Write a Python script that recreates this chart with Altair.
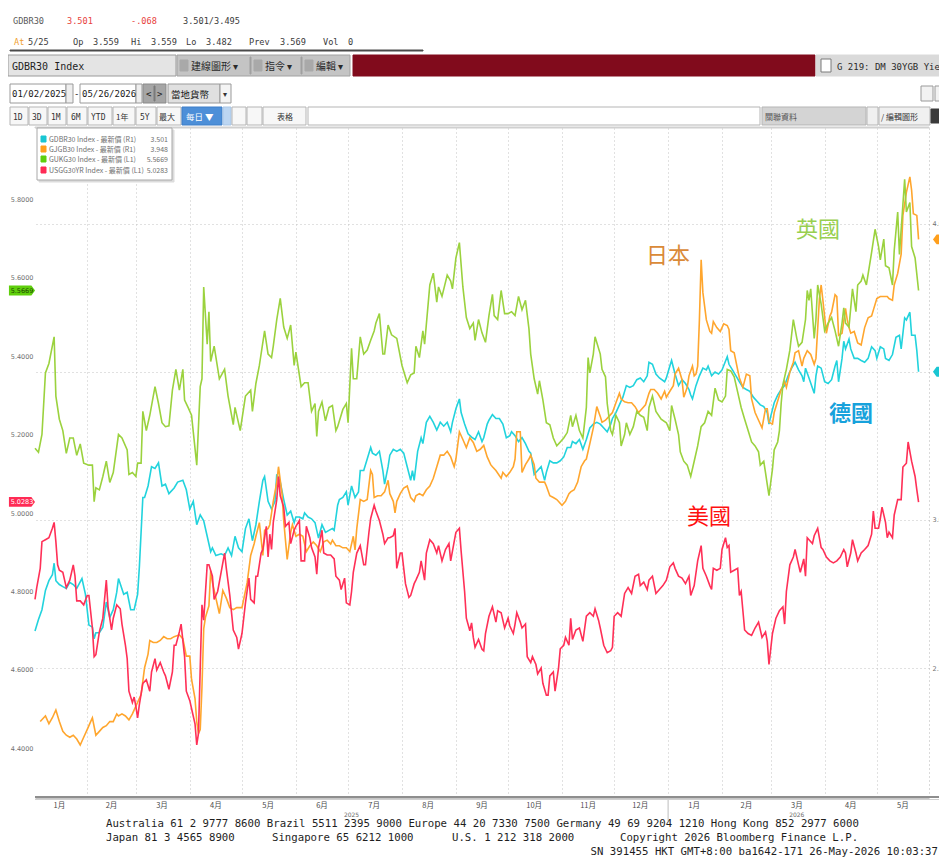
import altair as alt
import pandas as pd

# ------------------------------------------------------------------ data
START = "2025-01-02"          # first trading day shown; day offsets count from here

# (day offset, 30Y yield %)
uk30 = [(0,5.165),(2,5.155),(4,5.20),(6,5.357),(8,5.381),(11,5.449),(12,5.298),(14,5.239),(16,5.21),(18,5.152),
(20,5.191),(22,5.191),(24,5.147),(26,5.176),(28,5.127),(31,5.122),(33,5.122),(34,5.029),(35,5.064),(37,5.059),
(39,5.093),(41,5.132),(43,5.078),(45,5.103),(48,5.20),(50,5.191),(53,5.161),(54,5.098),(56,5.103),(58,5.093),
(59,5.127),(61,5.127),(62,5.259),(64,5.21),(66,5.249),(69,5.322),(71,5.279),(73,5.230),(75,5.220),(77,5.222),
(79,5.313),(81,5.366),(83,5.313),(85,5.366),(86,5.288),(88,5.269),(90,5.249),(93,5.122),(95,5.322),(96,5.342),
(97,5.576),(99,5.430),(100,5.513),(101,5.386),(103,5.425),(106,5.342),(109,5.366),(111,5.298),(114,5.225),(115,5.269),
(118,5.21),(121,5.298),(124,5.313),(125,5.259),(127,5.33),(129,5.376),(132,5.464),(134,5.405),(136,5.396),(137,5.425),
(139,5.493),(141,5.547),(143,5.474),(145,5.445),(147,5.479),(149,5.376),(150,5.410),(153,5.322),(155,5.332),(157,5.332),
(159,5.259),(161,5.279),(162,5.195),(163,5.259),(165,5.283),(167,5.235),(169,5.269),(171,5.274),(173,5.210),(174,5.220),
(177,5.264),(179,5.279),(180,5.230),(182,5.420),(183,5.342),(185,5.342),(187,5.449),(189,5.405),(191,5.415),(193,5.440),
(195,5.464),(196,5.484),(198,5.508),(200,5.405),(201,5.405),(203,5.479),(205,5.454),(208,5.445),(211,5.376),(214,5.332),
(216,5.352),(218,5.357),(219,5.425),(221,5.396),(223,5.464),(224,5.430),(227,5.581),(229,5.611),(231,5.537),(232,5.576),
(234,5.552),(237,5.606),(239,5.591),(240,5.571),(242,5.650),(244,5.689),(246,5.576),(248,5.498),(250,5.47),(252,5.484),
(253,5.440),(255,5.493),(257,5.459),(259,5.435),(261,5.503),(263,5.557),(264,5.503),(266,5.493),(268,5.567),(270,5.508),
(272,5.508),(274,5.513),(276,5.503),(278,5.552),(280,5.518),(282,5.542),(284,5.469),(285,5.405),(287,5.342),(289,5.303),
(290,5.337),(292,5.288),(294,5.230),(296,5.225),(298,5.191),(300,5.171),(302,5.181),(304,5.191),(306,5.205),(308,5.249),
(309,5.220),(311,5.249),(313,5.210),(315,5.191),(317,5.269),(318,5.396),(319,5.357),(321,5.405),(322,5.449),(325,5.405),
(326,5.366),(328,5.347),(329,5.279),(331,5.210),(332,5.200),(334,5.249),(336,5.230),(337,5.171),(339,5.200),(340,5.230),
(342,5.200),(344,5.220),(346,5.259),(348,5.249),(350,5.244),(352,5.210),(353,5.269),(355,5.298),(357,5.259),(360,5.239),
(363,5.230),(365,5.210),(366,5.274),(368,5.239),(370,5.200),(371,5.156),(373,5.132),(375,5.122),(377,5.093),(379,5.132),
(381,5.171),(383,5.220),(385,5.230),(387,5.259),(389,5.249),(391,5.318),(393,5.288),(395,5.283),(397,5.298),(398,5.366),
(400,5.362),(402,5.347),(404,5.308),(406,5.269),(408,5.239),(410,5.210),(412,5.181),(414,5.171),(416,5.156),(417,5.122),
(419,5.132),(420,5.103),(421,5.073),(422,5.044),(424,5.112),(425,5.161),(427,5.181),(428,5.210),(429,5.279),(430,5.327),
(432,5.366),(434,5.415),(436,5.493),(438,5.445),(439,5.425),(441,5.435),(443,5.493),(444,5.567),(445,5.542),(446,5.571),
(448,5.445),(449,5.493),(450,5.581),(452,5.532),(454,5.464),(456,5.484),(458,5.498),(460,5.464),(462,5.425),(464,5.484),
(465,5.523),(466,5.484),(468,5.474),(470,5.571),(472,5.513),(473,5.581),(475,5.591),(476,5.606),(478,5.581),(481,5.664),
(483,5.723),(485,5.679),(486,5.645),(488,5.698),(489,5.630),(491,5.625),(493,5.581),(494,5.669),(496,5.767),(497,5.659),
(499,5.786),(500,5.850),(501,5.767),(503,5.791),(504,5.679),(506,5.650),(508,5.567)]

us30 = [(0,4.780),(1,4.810),(3,4.859),(4,4.927),(6,4.932),(8,4.937),(10,4.961),(11,4.976),(12,4.927),(13,4.868),
(14,4.854),(16,4.849),(18,4.810),(20,4.829),(22,4.868),(23,4.839),(24,4.776),(26,4.776),(28,4.766),(30,4.790),
(31,4.790),(33,4.707),(34,4.634),(35,4.639),(37,4.697),(39,4.732),(41,4.829),(42,4.761),(44,4.702),(45,4.732),
(47,4.766),(49,4.756),(50,4.717),(52,4.663),(53,4.629),(54,4.546),(56,4.517),(57,4.531),(58,4.507),(59,4.478),
(60,4.512),(62,4.566),(64,4.575),(66,4.546),(67,4.595),(69,4.629),(70,4.600),(72,4.619),(74,4.595),(75,4.585),
(77,4.551),(79,4.595),(80,4.663),(81,4.663),(83,4.697),(84,4.717),(86,4.634),(87,4.546),(89,4.522),(90,4.502),
(92,4.463),(93,4.409),(94,4.439),(95,4.605),(96,4.766),(97,4.727),(99,4.868),(100,4.868),(102,4.839),(103,4.780),
(105,4.800),(107,4.849),(109,4.898),(110,4.859),(112,4.790),(114,4.702),(116,4.683),(117,4.653),(119,4.693),(121,4.771),
(123,4.834),(124,4.78),(126,4.771),(127,4.839),(128,4.839),(130,4.898),(131,4.907),(133,4.966),(134,4.888),(135,4.946),
(136,4.907),(137,4.976),(139,5.034),(140,5.093),(141,5.044),(143,5.015),(144,4.966),(146,4.976),(147,4.922),(149,4.956),
(150,4.966),(152,4.981),(153,4.878),(155,4.878),(156,4.966),(158,4.937),(159,4.912),(161,4.888),(162,4.844),(163,4.912),
(165,4.956),(166,4.898),(168,4.893),(170,4.893),(172,4.883),(173,4.839),(175,4.829),(176,4.805),(178,4.834),(179,4.771),
(181,4.766),(182,4.800),(183,4.849),(185,4.898),(187,4.917),(189,4.868),(190,4.868),(192,4.951),(193,4.986),(195,5.020),
(196,5.005),(198,4.981),(200,4.946),(201,4.922),(203,4.937),(204,4.937),(206,4.942),(207,4.961),(208,4.859),(210,4.898),
(211,4.898),(213,4.820),(215,4.785),(216,4.790),(218,4.820),(219,4.829),(221,4.849),(222,4.878),(224,4.829),(225,4.898),
(227,4.932),(229,4.922),(231,4.898),(232,4.917),(234,4.878),(236,4.907),(238,4.922),(239,4.878),(241,4.927),(242,4.951),
(244,4.961),(245,4.903),(247,4.800),(248,4.732),(250,4.70),(251,4.72),(252,4.683),(253,4.658),(255,4.678),(257,4.653),
(258,4.649),(259,4.693),(261,4.737),(263,4.761),(265,4.722),(266,4.751),(268,4.746),(270,4.707),(272,4.732),(273,4.712),
(275,4.693),(276,4.717),(277,4.746),(279,4.722),(280,4.707),(282,4.717),(283,4.634),(285,4.619),(286,4.634),(288,4.614),
(289,4.590),(291,4.605),(292,4.566),(294,4.536),(295,4.536),(296,4.585),(298,4.595),(299,4.546),(301,4.605),(302,4.654),
(304,4.663),(305,4.683),(307,4.663),(308,4.732),(309,4.678),(311,4.702),(313,4.707),(315,4.673),(317,4.737),(319,4.746),
(321,4.737),(322,4.756),(324,4.727),(325,4.707),(327,4.663),(329,4.644),(331,4.649),(332,4.658),(333,4.737),(335,4.746),
(337,4.737),(339,4.795),(341,4.810),(343,4.795),(345,4.839),(347,4.844),(348,4.815),(350,4.824),(352,4.805),(353,4.829),
(355,4.839),(357,4.795),(359,4.805),(361,4.815),(363,4.829),(365,4.863),(367,4.873),(368,4.859),(370,4.839),(372,4.834),
(374,4.820),(376,4.839),(377,4.790),(379,4.815),(381,4.878),(383,4.917),(384,4.859),(386,4.839),(388,4.815),(389,4.805),
(390,4.859),(392,4.854),(394,4.859),(395,4.907),(397,4.937),(398,4.912),(399,4.917),(400,4.849),(402,4.854),(404,4.859),
(405,4.790),(406,4.800),(407,4.751),(408,4.702),(410,4.693),(412,4.688),(414,4.707),(416,4.722),(418,4.683),(420,4.697),
(421,4.673),(422,4.614),(424,4.693),(426,4.732),(428,4.751),(430,4.761),(431,4.717),(432,4.800),(434,4.868),(436,4.888),
(437,4.907),(439,4.868),(440,4.849),(442,4.883),(443,4.839),(444,4.937),(445,4.932),(447,4.922),(448,4.942),(450,4.961),
(452,4.912),(453,4.907),(455,4.888),(457,4.878),(459,4.873),(461,4.878),(463,4.888),(465,4.907),(466,4.898),(467,4.863),
(469,4.898),(470,4.932),(472,4.898),(473,4.878),(475,4.898),(477,4.907),(479,4.917),(481,4.946),(482,5.005),(483,4.961),
(485,4.961),(486,4.986),(487,5.015),(489,4.976),(490,4.937),(491,4.951),(493,4.937),(494,4.995),(496,5.034),(498,5.034),
(499,5.117),(501,5.127),(502,5.181),(504,5.132),(506,5.093),(507,5.059),(508,5.028)]

de30 = [(0,2.625),(2,2.664),(4,2.697),(6,2.762),(8,2.795),(10,2.815),(11,2.854),(12,2.795),(14,2.782),(16,2.775),
(18,2.769),(20,2.789),(22,2.782),(24,2.769),(27,2.802),(29,2.749),(31,2.645),(33,2.638),(34,2.599),(35,2.619),
(37,2.619),(39,2.638),(41,2.723),(43,2.671),(45,2.697),(47,2.756),(48,2.802),(51,2.749),(53,2.756),(55,2.697),
(57,2.697),(59,2.749),(60,2.841),(62,3.076),(63,3.076),(65,3.115),(67,3.180),(69,3.174),(71,3.193),(73,3.115),
(75,3.121),(77,3.089),(80,3.108),(82,3.128),(85,3.134),(87,3.102),(89,3.037),(91,3.063),(93,2.984),(95,3.017),
(97,2.997),(99,2.945),(101,2.893),(102,2.906),(104,2.880),(107,2.886),(109,2.880),(111,2.906),(113,2.880),(115,2.945),
(117,2.906),(119,2.893),(121,2.971),(123,3.004),(125,2.93),(127,2.984),(129,3.063),(131,3.134),(132,3.147),(134,3.063),
(136,3.037),(138,3.063),(139,3.154),(141,3.128),(143,3.069),(145,3.017),(147,3.030),(149,2.991),(150,3.010),(152,3.010),
(154,3.004),(155,3.024),(157,3.010),(159,3.004),(161,2.991),(163,2.939),(165,2.984),(167,2.958),(169,2.965),(171,2.971),
(172,2.965),(174,3.050),(175,3.069),(177,3.076),(179,3.095),(180,3.050),(182,3.115),(184,3.076),(186,3.095),(187,3.167),
(189,3.167),(191,3.206),(193,3.245),(194,3.226),(196,3.219),(198,3.232),(200,3.167),(201,3.121),(203,3.180),(204,3.219),
(206,3.239),(208,3.232),(210,3.239),(212,3.226),(214,3.180),(216,3.134),(217,3.167),(218,3.134),(220,3.232),(222,3.278),
(223,3.258),(225,3.330),(227,3.350),(229,3.330),(231,3.304),(233,3.330),(235,3.317),(237,3.330),(239,3.298),(240,3.330),
(242,3.376),(244,3.409),(245,3.363),(247,3.324),(249,3.291),(251,3.28),(253,3.272),(255,3.298),(257,3.265),(258,3.278),
(260,3.324),(261,3.337),(263,3.356),(265,3.343),(267,3.343),(269,3.324),(271,3.278),(273,3.285),(274,3.298),(276,3.285),
(278,3.265),(280,3.278),(282,3.258),(284,3.232),(285,3.226),(287,3.154),(289,3.167),(291,3.180),(293,3.134),(294,3.161),
(296,3.200),(298,3.193),(300,3.193),(302,3.200),(304,3.213),(306,3.245),(308,3.245),(309,3.265),(311,3.258),(313,3.272),
(315,3.239),(317,3.272),(319,3.311),(321,3.324),(323,3.330),(325,3.324),(327,3.311),(329,3.298),(331,3.324),(332,3.343),
(334,3.363),(336,3.389),(338,3.415),(340,3.454),(342,3.448),(344,3.454),(346,3.474),(348,3.480),(350,3.467),(352,3.487),
(353,3.533),(355,3.526),(357,3.493),(359,3.480),(362,3.467),(363,3.480),(365,3.520),(366,3.539),(368,3.493),(370,3.454),
(372,3.474),(374,3.461),(376,3.441),(377,3.422),(378,3.409),(380,3.454),(382,3.487),(384,3.513),(386,3.507),(387,3.520),
(389,3.487),(391,3.500),(393,3.493),(395,3.507),(398,3.552),(399,3.526),(401,3.507),(403,3.487),(405,3.467),(407,3.448),
(409,3.441),(411,3.435),(413,3.415),(415,3.402),(417,3.389),(419,3.383),(421,3.363),(422,3.324),(423,3.350),(425,3.396),
(427,3.422),(429,3.441),(431,3.454),(433,3.487),(435,3.513),(437,3.533),(439,3.507),(441,3.487),(442,3.467),(443,3.513),
(445,3.480),(448,3.428),(449,3.487),(450,3.520),(452,3.513),(454,3.467),(456,3.461),(458,3.474),(460,3.520),(461,3.539),
(462,3.467),(464,3.546),(465,3.604),(466,3.578),(468,3.611),(469,3.578),(471,3.546),(473,3.546),(475,3.539),(477,3.533),
(479,3.546),(481,3.585),(483,3.572),(484,3.546),(486,3.585),(488,3.578),(489,3.546),(491,3.539),(493,3.559),(495,3.617),
(497,3.624),(498,3.578),(500,3.683),(501,3.676),(503,3.702),(504,3.624),(506,3.624),(507,3.572),(508,3.501)]

jp30 = [(3,2.319),(5,2.332),(6,2.338),(8,2.312),(10,2.332),(12,2.358),(14,2.319),(16,2.286),(18,2.273),(20,2.266),
(22,2.273),(24,2.260),(26,2.240),(28,2.266),(30,2.292),(32,2.319),(33,2.332),(35,2.273),(37,2.286),(39,2.299),
(41,2.305),(43,2.319),(45,2.319),(47,2.345),(48,2.338),(50,2.345),(52,2.338),(54,2.325),(56,2.345),(58,2.371),
(61,2.410),(63,2.501),(65,2.547),(66,2.593),(68,2.586),(70,2.586),(72,2.593),(74,2.606),(76,2.599),(78,2.599),
(80,2.606),(83,2.612),(85,2.599),(87,2.540),(89,2.540),(90,2.462),(92,2.397),(93,2.319),(94,2.279),(95,2.292),
(96,2.436),(97,2.632),(98,2.671),(100,2.710),(101,2.828),(102,2.789),(104,2.736),(106,2.684),(108,2.762),(110,2.736),
(112,2.704),(114,2.697),(116,2.704),(119,2.704),(122,2.789),(124,2.88),(126,2.92),(127,2.945),(129,2.991),(131,2.880),
(132,2.965),(134,2.971),(135,2.984),(137,3.063),(139,3.128),(140,3.180),(142,3.089),(143,2.997),(145,2.867),(147,2.958),
(148,2.984),(150,2.945),(152,2.952),(154,2.945),(156,2.893),(158,2.913),(160,2.926),(162,2.913),(164,2.893),(166,2.926),
(168,2.932),(170,2.919),(171,2.932),(173,2.913),(175,2.913),(177,2.906),(179,2.906),(181,2.893),(183,2.945),(184,2.899),
(185,2.971),(187,3.069),(189,3.063),(191,3.069),(193,3.167),(194,3.154),(195,3.076),(197,3.082),(199,3.082),(201,3.095),
(203,3.134),(204,3.089),(206,3.063),(207,3.024),(208,3.063),(210,3.089),(212,3.108),(214,3.115),(216,3.076),(218,3.063),
(219,3.082),(221,3.089),(223,3.082),(225,3.102),(227,3.115),(229,3.141),(231,3.180),(233,3.219),(235,3.219),(237,3.232),
(239,3.213),(241,3.180),(242,3.206),(244,3.298),(246,3.272),(248,3.245),(250,3.278),(252,3.262),(254,3.232),(256,3.239),
(258,3.252),(260,3.213),(262,3.187),(263,3.180),(265,3.167),(268,3.141),(269,3.161),(271,3.147),(273,3.161),(275,3.180),
(276,3.206),(277,3.298),(279,3.298),(280,3.161),(282,3.187),(284,3.206),(285,3.219),(287,3.187),(288,3.141),(290,3.128),
(293,3.128),(294,3.115),(296,3.082),(298,3.076),(300,3.069),(303,3.050),(305,3.063),(307,3.089),(308,3.095),(310,3.102),
(312,3.128),(314,3.180),(316,3.200),(317,3.206),(319,3.258),(321,3.311),(323,3.383),(325,3.350),(326,3.330),(328,3.337),
(330,3.350),(332,3.363),(334,3.396),(336,3.428),(337,3.409),(339,3.399),(341,3.396),(343,3.396),(345,3.383),(347,3.363),
(349,3.376),(351,3.389),(353,3.428),(354,3.441),(356,3.441),(358,3.428),(360,3.409),(362,3.435),(363,3.415),(365,3.435),
(367,3.454),(368,3.493),(370,3.513),(372,3.474),(373,3.415),(375,3.448),(376,3.487),(378,3.520),(379,3.487),(380,3.493),
(381,3.520),(382,3.676),(383,3.879),(384,3.768),(386,3.676),(388,3.637),(389,3.631),(390,3.670),(392,3.650),(394,3.637),
(396,3.663),(398,3.657),(399,3.644),(400,3.572),(402,3.565),(404,3.507),(405,3.480),(407,3.448),(409,3.493),(411,3.487),
(412,3.409),(414,3.363),(416,3.337),(418,3.311),(420,3.376),(421,3.376),(422,3.330),(424,3.324),(425,3.363),(427,3.402),
(429,3.441),(431,3.467),(432,3.448),(434,3.500),(436,3.533),(437,3.565),(439,3.572),(441,3.520),(442,3.546),(444,3.572),
(446,3.559),(448,3.526),(449,3.546),(451,3.748),(452,3.794),(453,3.742),(455,3.631),(457,3.689),(458,3.702),(460,3.761),
(461,3.755),(462,3.624),(464,3.631),(466,3.715),(467,3.676),(468,3.650),(469,3.631),(471,3.637),(473,3.598),(475,3.591),
(477,3.650),(479,3.683),(481,3.689),(482,3.709),(484,3.748),(486,3.755),(488,3.755),(490,3.755),(491,3.748),(493,3.742),
(494,3.794),(496,3.833),(498,3.898),(499,4.029),(501,4.107),(502,4.133),(503,4.159),(504,4.114),(505,4.035),(507,4.029),
(508,3.948)]

series_names = ["GDBR30", "GJGB30", "GUKG30", "USGG30YR"]
series_colors = ["#22d3dd", "#ffa62e", "#9bd23e", "#ff3057"]
tag_colors = ["#19c6d3", "#ff9f1c", "#5fcf0c", "#ff2b55"]
tag_text_colors = ["#0b3f44", "#4a2a00", "#1d4700", "#ffffff"]
last_values = [3.501, 3.948, 5.5669, 5.0283]
last_labels = ["3.501", "3.948", "5.5669", "5.0283"]
legend_rows = ["GDBR30 Index - 最新價 (R1)", "GJGB30 Index - 最新價 (R1)",
               "GUKG30 Index - 最新價 (L1)", "USGG30YR Index - 最新價 (L1)"]

month_label_dates = ["2025-01-16", "2025-02-15", "2025-03-16", "2025-04-16", "2025-05-16", "2025-06-16",
                     "2025-07-16", "2025-08-16", "2025-09-16", "2025-10-16", "2025-11-16", "2025-12-16",
                     "2026-01-16", "2026-02-15", "2026-03-16", "2026-04-16", "2026-05-16"]
month_labels = ["1月", "2月", "3月", "4月", "5月", "6月", "7月", "8月", "9月", "10月", "11月", "12月",
                "1月", "2月", "3月", "4月", "5月"]
year_label_dates = ["2025-07-03", "2026-03-16"]
year_labels = ["2025", "2026"]

annotations = [("英國", "#98cf50", 783, 102, "normal"), ("日本", "#da8a38", 633, 128, "normal"),
               ("德國", "#17a2dc", 816, 286, "bold"), ("美國", "#ff1010", 674, 389, "normal")]

# ------------------------------------------------------------------ layout constants
W, H = 894, 669            # plot area (page x 35..929, y 128..797)
OX, OY = 35, 128           # page position of plot origin
MONO = "DejaVu Sans Mono"
CJK = "Noto Sans CJK TC"

def series_frame(pairs, name):
    df = pd.DataFrame(pairs, columns=["day", "value"])
    df["date"] = pd.Timestamp(START) + pd.to_timedelta(df["day"], unit="D")
    df["series"] = name
    return df

df_right = pd.concat([series_frame(de30, "GDBR30"), series_frame(jp30, "GJGB30")])
df_left = pd.concat([series_frame(uk30, "GUKG30"), series_frame(us30, "USGG30YR")])

tags = pd.DataFrame({"series": series_names, "value": last_values, "label": last_labels,
                     "fill": tag_colors, "tcolor": tag_text_colors})

x_scale = alt.Scale(domain=[alt.DateTime(year=2025, month=1, date=2), alt.DateTime(year=2026, month=5, date=31)])
month_starts = [alt.DateTime(year=2025, month=m, date=1) for m in range(2, 13)] + \
               [alt.DateTime(year=2026, month=m, date=1) for m in range(1, 6)]
x_axis = alt.Axis(values=month_starts, grid=True, gridDash=[1, 3], gridColor="#c2c2c2", labels=False,
                  ticks=False, domain=True, domainColor="#8e8e8e", domainWidth=2, title=None)
xenc = alt.X("date:T", scale=x_scale, axis=x_axis, title=None)

l_scale = alt.Scale(domain=[4.2764, 5.981], nice=False, zero=False)
l_axis = alt.Axis(orient="left", values=[4.4, 4.6, 4.8, 5.0, 5.2, 5.4, 5.6, 5.8], format=".4f", grid=False,
                  ticks=False, domain=False, labelFontSize=6.5, labelColor="#707070", labelPadding=2,
                  labelFont="DejaVu Sans", title=None)
r_scale = alt.Scale(domain=[2.0642, 4.3243], nice=False, zero=False)
# the 3.5 label sits under the German last-value tag, so it is not drawn
r_axis = alt.Axis(orient="right", values=[2.5, 3.0, 3.5, 4.0], grid=True, gridDash=[1, 3],
                  labelExpr="datum.value == 3.5 ? '' : format(datum.value, '.2f')",
                  gridColor="#c2c2c2", ticks=False, domain=True, domainDash=[1, 3], domainColor="#b4b4b4",
                  labelFontSize=6.5, labelColor="#707070", labelPadding=3, labelFont="DejaVu Sans", title=None)

color = alt.Color("series:N", scale=alt.Scale(domain=series_names, range=series_colors), legend=None)

LEFT_TAG = "M-1,-0.38L0.72,-0.38L1,0L0.72,0.38L-1,0.38Z"
RIGHT_TAG = "M-1,0L-0.72,-0.38L1,-0.38L1,0.38L-0.72,0.38Z"

def value_group(df, names, yscale, yaxis, tag_x, tag_shape):
    yenc = alt.Y("value:Q", scale=yscale, axis=yaxis, title=None)
    lines = alt.Chart(df).mark_line(strokeWidth=1.6).encode(x=xenc, y=yenc, color=color, detail="series:N")
    t = tags[tags["series"].isin(names)]
    tag = alt.Chart(t).mark_point(shape=tag_shape, size=680, filled=True, opacity=1, strokeWidth=0).encode(
        x=alt.value(tag_x), y=yenc, fill=alt.Fill("fill:N", scale=None))
    tag_txt = alt.Chart(t).mark_text(fontSize=6.5, font="DejaVu Sans", align="center", baseline="middle").encode(
        x=alt.value(tag_x + (0 if tag_x < 0 else 2)), y=yenc, text="label:N", fill=alt.Fill("tcolor:N", scale=None))
    return alt.layer(lines, tag, tag_txt)

right_group = value_group(df_right, ["GDBR30", "GJGB30"], r_scale, r_axis, 911, RIGHT_TAG)
left_group = value_group(df_left, ["GUKG30", "USGG30YR"], l_scale, l_axis, -13, LEFT_TAG)

# ------------------------------------------------------------------ terminal chrome (page coordinates)
leg_rows_y = [139, 149, 159, 170]
rects = [
    (10, 423, 50, 51, "#4a4a4a", "#4a4a4a"),
    (8, 176, 55, 76, "#e4e4e4", "#9a9a9a"),
    (177, 350, 55, 76, "#c4c4c4", "#a2a2a2"),
    (250, 251, 57, 74, "#a0a0a0", "#a0a0a0"), (301, 302, 57, 74, "#a0a0a0", "#a0a0a0"),
    (180, 188, 60, 71, "#a9a9a9", "#a9a9a9"), (254, 262, 60, 71, "#a9a9a9", "#a9a9a9"),
    (305, 313, 60, 71, "#a9a9a9", "#a9a9a9"),
    (353, 815, 55, 76, "#810b1c", "#810b1c"),
    (816, 947, 55, 76, "#dadada", "#dadada"),
    (821, 831, 59, 72, "#ffffff", "#7a7a7a"),
    (10, 66, 84, 103, "#ffffff", "#9a9a9a"), (66, 73, 84, 103, "#eeeeee", "#9a9a9a"),
    (80, 136, 84, 103, "#ffffff", "#9a9a9a"), (136, 142, 84, 103, "#eeeeee", "#9a9a9a"),
    (143, 166, 84, 103, "#a6a6a6", "#8a8a8a"), (154, 155, 86, 101, "#7a7a7a", "#7a7a7a"),
    (168, 220, 84, 103, "#e0e0e0", "#9a9a9a"), (220, 231, 84, 103, "#f4f4f4", "#9a9a9a"),
    (921, 933, 86, 101, "#f2f2f2", "#9a9a9a"), (935, 947, 86, 101, "#f2f2f2", "#9a9a9a"),
    (10, 28, 107, 125, "#f7f7f7", "#b5b5b5"), (29, 47, 107, 125, "#f7f7f7", "#b5b5b5"),
    (48, 66, 107, 125, "#f7f7f7", "#b5b5b5"), (67, 87, 107, 125, "#f7f7f7", "#b5b5b5"),
    (88, 112, 107, 125, "#f7f7f7", "#b5b5b5"), (113, 135, 107, 125, "#f7f7f7", "#b5b5b5"),
    (136, 156, 107, 125, "#f7f7f7", "#b5b5b5"), (157, 181, 107, 125, "#f7f7f7", "#b5b5b5"),
    (182, 222, 107, 125, "#4d8fd8", "#3f7fc8"), (223, 231, 107, 125, "#bcd6f2", "#a9c6e6"),
    (232, 246, 107, 125, "#f7f7f7", "#b5b5b5"), (247, 262, 107, 125, "#f7f7f7", "#b5b5b5"),
    (263, 306, 107, 125, "#f7f7f7", "#b5b5b5"), (308, 760, 107, 125, "#ffffff", "#b5b5b5"),
    (762, 866, 107, 125, "#d4d4d4", "#b5b5b5"), (867, 878, 107, 125, "#f0f0f0", "#b5b5b5"),
    (879, 930, 107, 125, "#f0f0f0", "#b5b5b5"), (931, 941, 109, 123, "#3a3a3a", "#3a3a3a"),
    (35, 929, 127, 128, "#d0d0d0", "#d0d0d0"),
    (39, 174, 130, 182, "#dcdcdc", "#dcdcdc"),
    (37, 172, 128, 180, "#ffffff", "#a8a8a8"),
] + [(41, 46, leg_rows_y[i] - 3, leg_rows_y[i] + 3, tag_colors[i], tag_colors[i]) for i in range(4)]
rect_df = pd.DataFrame(rects, columns=["x", "x2", "y", "y2", "fill", "stroke"])
for c in ("x", "x2"):
    rect_df[c] = rect_df[c] - OX
for c in ("y", "y2"):
    rect_df[c] = rect_df[c] - OY

mono_texts = [
    ("GDBR30", 13, 24, "#5a5a5a", 8.6), ("3.501", 67, 24, "#e8413c", 8.6), ("-.068", 131, 24, "#e8413c", 8.6),
    ("3.501/3.495", 183, 24, "#3a3a3a", 8.6),
    ("At", 14, 45, "#f0a030", 8.6), ("5/25", 28, 45, "#3a3a3a", 8.6), ("Op", 73, 45, "#3a3a3a", 8.6),
    ("3.559", 93, 45, "#3a3a3a", 8.6), ("Hi", 131, 45, "#3a3a3a", 8.6), ("3.559", 151, 45, "#3a3a3a", 8.6),
    ("Lo", 186, 45, "#3a3a3a", 8.6), ("3.482", 206, 45, "#3a3a3a", 8.6), ("Prev", 249, 45, "#3a3a3a", 8.6),
    ("3.569", 280, 45, "#3a3a3a", 8.6), ("Vol", 323, 45, "#3a3a3a", 8.6), ("0", 348, 45, "#3a3a3a", 8.6),
    ("GDBR30 Index", 12, 70, "#1e1e1e", 10), ("G 219: DM 30YGB Yield", 837, 70, "#2a2a2a", 9),
    ("01/02/2025", 12, 97, "#202020", 9), ("-", 74, 97, "#202020", 9), ("05/26/2026", 82, 97, "#202020", 9),
    ("<", 146, 97, "#222222", 9), (">", 157, 97, "#222222", 9),
    ("1D", 13, 120, "#333333", 8), ("3D", 32, 120, "#333333", 8), ("1M", 51, 120, "#333333", 8),
    ("6M", 71, 120, "#333333", 8), ("YTD", 91, 120, "#333333", 8), ("5Y", 140, 120, "#333333", 8),
    ("Australia 61 2 9777 8600 Brazil 5511 2395 9000 Europe 44 20 7330 7500 Germany 49 69 9204 1210 Hong Kong 852 2977 6000",
     106, 827, "#1e1e1e", 10.7),
    ("Japan 81 3 4565 8900", 106, 841, "#1e1e1e", 10.7), ("Singapore 65 6212 1000", 272, 841, "#1e1e1e", 10.7),
    ("U.S. 1 212 318 2000", 452, 841, "#1e1e1e", 10.7),
    ("Copyright 2026 Bloomberg Finance L.P.", 620, 841, "#1e1e1e", 10.7),
]
mono_right = [("SN 391455 HKT  GMT+8:00 ba1642-171 26-May-2026 10:03:37", 938, 855, "#1e1e1e", 10.7)]
cjk_texts = [
    ("建線圖形 ▾", 191, 70, "#2a2a2a", 10), ("指令 ▾", 265, 70, "#2a2a2a", 10), ("編輯 ▾", 316, 70, "#2a2a2a", 10),
    ("當地貨幣", 171, 98, "#1a1a1a", 9.5), ("▾", 223, 97, "#333333", 8),
    ("1年", 116, 120, "#333333", 8), ("最大", 159, 120, "#333333", 8), ("每日 ▼", 186, 120, "#ffffff", 8.5),
    ("表格", 277, 120, "#333333", 8), ("關聯資料", 765, 120, "#555555", 8), ("/ 編輯圖形", 881, 120, "#333333", 8),
] + [(legend_rows[i], 49, leg_rows_y[i] + 2.5, "#6f6f6f", 7) for i in range(4)]
cjk_right = [(last_labels[i], 168, leg_rows_y[i] + 2.5, "#6f6f6f", 7) for i in range(4)]

def text_layer(items, font, align="left", weight="normal"):
    df = pd.DataFrame(items, columns=["text", "x", "y", "fill", "size"])
    df["x"] = df["x"] - OX
    df["y"] = df["y"] - OY
    return alt.Chart(df).mark_text(font=font, align=align, baseline="alphabetic", fontWeight=weight).encode(
        x=alt.X("x:Q", scale=None, axis=None), y=alt.Y("y:Q", scale=None, axis=None),
        text="text:N", fill=alt.Fill("fill:N", scale=None), size=alt.Size("size:Q", scale=None, legend=None))

rect_layer = alt.Chart(rect_df).mark_rect(strokeWidth=1).encode(
    x=alt.X("x:Q", scale=None, axis=None), x2="x2:Q",
    y=alt.Y("y:Q", scale=None, axis=None), y2="y2:Q",
    fill=alt.Fill("fill:N", scale=None), stroke=alt.Stroke("stroke:N", scale=None))

# x-axis extras
axis_ext = alt.Chart(pd.DataFrame({"k": [0]})).mark_rule(stroke="#8e8e8e", strokeWidth=2).encode(
    x=alt.value(0), x2=alt.value(W + 12), y=alt.value(H))
axis_ext2 = alt.Chart(pd.DataFrame({"k": [0]})).mark_rule(stroke="#cfcfcf", strokeWidth=1).encode(
    x=alt.value(0), x2=alt.value(W + 12), y=alt.value(H + 2.5))

months_df = pd.DataFrame({"date": pd.to_datetime(month_label_dates), "label": month_labels})
month_layer = alt.Chart(months_df).mark_text(font=CJK, fontSize=7.5, color="#4a4a4a", baseline="middle").encode(
    x=xenc, y=alt.value(H + 9), text="label:N")
years_df = pd.DataFrame({"date": pd.to_datetime(year_label_dates), "label": year_labels})
year_layer = alt.Chart(years_df).mark_text(font="DejaVu Sans", fontSize=6, color="#6a6a6a", baseline="middle").encode(
    x=xenc, y=alt.value(H + 18), text="label:N")
year_sep = alt.Chart(pd.DataFrame({"date": [pd.Timestamp("2026-01-01")]})).mark_rule(
    stroke="#bdbdbd", strokeWidth=1).encode(x=xenc, y=alt.value(H + 3), y2=alt.value(H + 24))

ann_df = pd.DataFrame(annotations, columns=["text", "fill", "x", "y", "weight"])
ann_normal = alt.Chart(ann_df[ann_df["weight"] == "normal"]).mark_text(
    font=CJK, fontSize=22, baseline="middle", align="center").encode(
    x=alt.X("x:Q", scale=None, axis=None), y=alt.Y("y:Q", scale=None, axis=None),
    text="text:N", fill=alt.Fill("fill:N", scale=None))
ann_bold = alt.Chart(ann_df[ann_df["weight"] == "bold"]).mark_text(
    font=CJK, fontSize=22, fontWeight="bold", baseline="middle", align="center").encode(
    x=alt.X("x:Q", scale=None, axis=None), y=alt.Y("y:Q", scale=None, axis=None),
    text="text:N", fill=alt.Fill("fill:N", scale=None))

chart = alt.layer(
    rect_layer,
    right_group,
    left_group,
    axis_ext, axis_ext2, month_layer, year_layer, year_sep,
    text_layer(mono_texts, MONO), text_layer(mono_right, MONO, align="right"),
    text_layer(cjk_texts, CJK), text_layer(cjk_right, CJK, align="right"),
    ann_normal, ann_bold,
).resolve_scale(y="independent").properties(
    width=W, height=H,
    padding={"left": 27, "top": 120, "right": 10, "bottom": 60},
    autosize=alt.AutoSizeParams(type="none"),
    background="white",
).configure_view(stroke=None)

chart.save("out.html", embed_options={"renderer": "svg", "actions": False})
